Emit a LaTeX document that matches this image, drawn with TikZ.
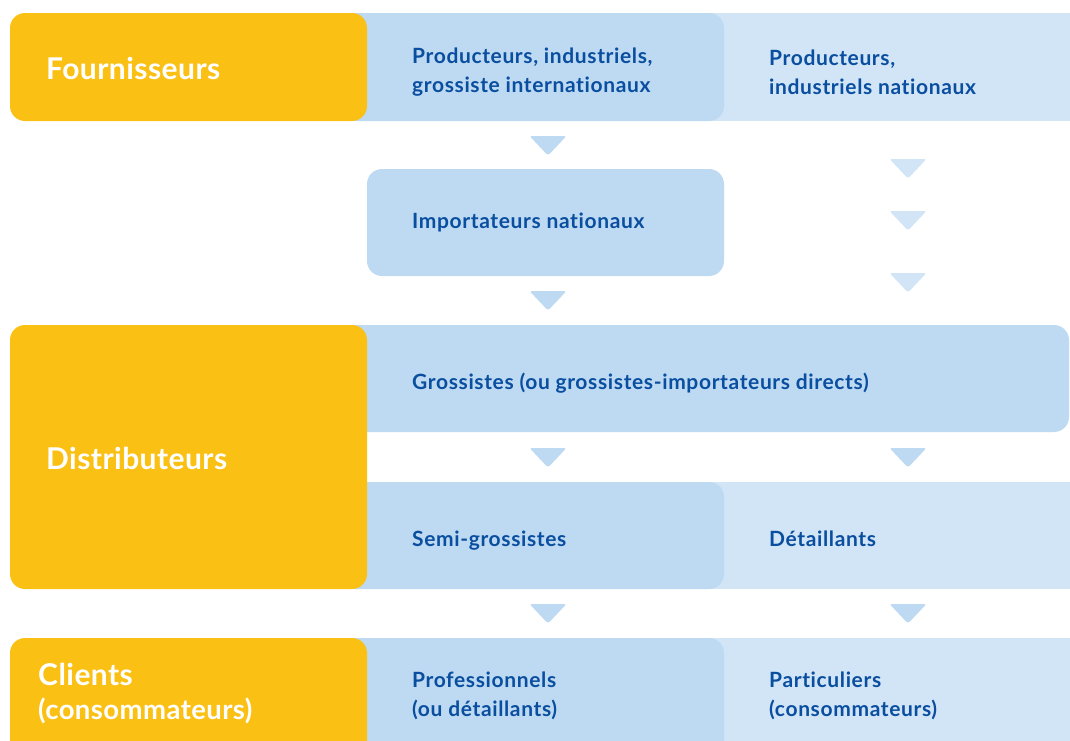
\documentclass[tikz,border=0pt]{standalone}
\usepackage{fontspec}
\setmainfont{Lato}
\newfontfamily\rowfont{Lato}[LetterSpace=3, Ligatures=NoCommon]
\newfontfamily\rolefont{Lato}[LetterSpace=1.5, Ligatures=NoCommon]
\definecolor{gold}{RGB}{251,192,20}
\definecolor{midblue}{RGB}{189,218,242}
\definecolor{paleblue}{RGB}{209,229,246}
\definecolor{inkblue}{RGB}{10,78,160}

\tikzset{
  rowtext/.style={anchor=west, inner sep=0pt, align=left, text=inkblue,
    font=\rowfont\fontsize{21}{29}\selectfont\bfseries},
  roletext/.style={anchor=west, inner sep=0pt, align=left, text=white,
    font=\rolefont\fontsize{30}{34}\selectfont\bfseries},
}

\begin{document}
\begin{tikzpicture}[x=1pt, y=-1pt]

      \clip (0,0) rectangle (1070,740);

      % pale bands on the right column
      \fill[paleblue] (700,13) rectangle (1090,121);
      \fill[paleblue] (700,482) rectangle (1090,589);
      \fill[paleblue] (700,638) rectangle (1090,760);

      % middle column boxes
      \fill[midblue, rounded corners=15] (340,13) rectangle (724,121);
      \fill[midblue, rounded corners=15] (367,169) rectangle (724,276);
      \fill[midblue, rounded corners=15] (340,325) rectangle (1069,432);
      \fill[midblue, rounded corners=15] (340,482) rectangle (724,589);
      \fill[midblue, rounded corners=15] (340,638) rectangle (724,760);

      % yellow role boxes
      \fill[gold, rounded corners=15] (10,13) rectangle (367,121);
      \fill[gold, rounded corners=15] (10,325) rectangle (367,589);
      \fill[gold, rounded corners=15] (10,638) rectangle (367,760);

      % down markers between the rows
      \foreach \mx/\my/\mc in {548/136/midblue, 548/291/midblue,
        548/448/midblue, 548/604/midblue,
        908/159/paleblue, 908/211/paleblue, 908/273/paleblue,
        908/448/midblue, 908/604/midblue}
        \fill[\mc, rounded corners=2.5] (\mx-18.5,\my) -- (\mx+18.5,\my)
        -- (\mx,\my+19.5) -- cycle;

      % roles
      \node[roletext] (fourn) at (46,68) {Fournisseurs};
      \node[roletext] (distrib) at (46,458) {Distributeurs};
      \node[roletext] (clients) at (38,694) {Clients\\{\fontsize{27.5}{34}\selectfont(consommateurs)}};

      % actors
      \node[rowtext] (prodint) at (412,72) {Producteurs, industriels,\\grossiste internationaux};
      \node[rowtext] (prodnat) at (769,72) {Producteurs,\\industriels nationaux};
      \node[rowtext] (import) at (412,222) {Importateurs nationaux};
      \node[rowtext] (gross) at (412,383) {Grossistes (ou grossistes-importateurs directs)};
      \node[rowtext] (semi) at (412,541) {Semi-grossistes};
      \node[rowtext] (detail) at (769,539) {D\'etaillants};
      \node[rowtext] (pro) at (412,696) {Professionnels\\(ou d\'etaillants)};
      \node[rowtext] (partic) at (769,696) {Particuliers\\(consommateurs)};
\end{tikzpicture}
\end{document}
